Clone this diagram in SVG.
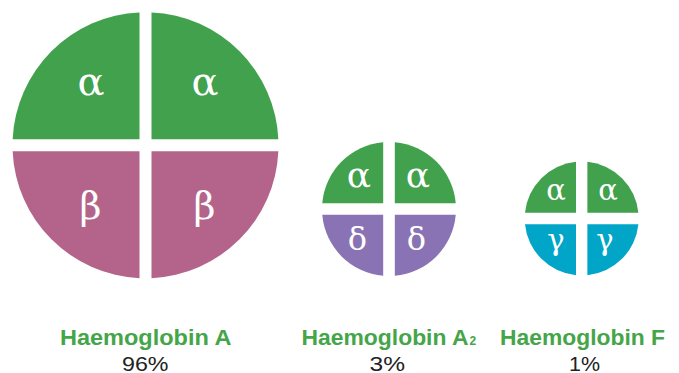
<svg xmlns="http://www.w3.org/2000/svg" width="679" height="373" viewBox="0 0 679 373">
<style>
.g{fill:#41a14d}
.p{fill:#b4648a}
.v{fill:#8973b4}
.c{fill:#00a5c8}
.gr{font-family:"DejaVu Serif",serif;fill:#fff;text-anchor:middle}
.t{font-family:"Liberation Sans",Arial,sans-serif;font-weight:bold;fill:#45a549;font-size:22px}
.n{font-family:"Liberation Sans",Arial,sans-serif;fill:#222;font-size:21px}
</style>
<rect width="679" height="373" fill="#fff"/>
<g id="hba">
<path class="g" d="M139.5,139.3V12.44A133,133 0 0 0 12.64,139.3Z"/>
<path class="g" d="M151.5,139.3V12.44A133,133 0 0 1 278.36,139.3Z"/>
<path class="p" d="M139.5,151.3H12.64A133,133 0 0 0 139.5,278.16Z"/>
<path class="p" d="M151.5,151.3V278.16A133,133 0 0 0 278.36,151.3Z"/>
<text class="gr" x="91" y="95" font-size="40">α</text>
<text class="gr" x="205" y="95" font-size="40">α</text>
<text class="gr" x="90.5" y="219" font-size="38">β</text>
<text class="gr" x="204.5" y="219" font-size="38">β</text>
<text class="t" x="60" y="345" textLength="171.5" lengthAdjust="spacingAndGlyphs">Haemoglobin A</text>
<text class="n" x="122" y="370.5" textLength="46.5" lengthAdjust="spacingAndGlyphs">96%</text>
</g>
<g id="hba2">
<path class="g" d="M383.2,203.2V142.25A67,67 0 0 0 322.25,203.2Z"/>
<path class="g" d="M394.8,203.2V142.25A67,67 0 0 1 455.75,203.2Z"/>
<path class="v" d="M383.2,214.8H322.25A67,67 0 0 0 383.2,275.75Z"/>
<path class="v" d="M394.8,214.8V275.75A67,67 0 0 0 455.75,214.8Z"/>
<text class="gr" x="359" y="186.5" font-size="36">α</text>
<text class="gr" x="418" y="186.5" font-size="36">α</text>
<text class="gr" x="357.5" y="250" font-size="32">δ</text>
<text class="gr" x="416.5" y="250" font-size="32">δ</text>
<text class="t" x="301.5" y="345"><tspan textLength="167" lengthAdjust="spacingAndGlyphs">Haemoglobin A</tspan><tspan font-size="12" dx="1">2</tspan></text>
<text class="n" x="369.5" y="370.5" textLength="35.5" lengthAdjust="spacingAndGlyphs">3%</text>
</g>
<g id="hbf">
<path class="g" d="M576,212.8V161.79A57,57 0 0 0 524.99,212.8Z"/>
<path class="g" d="M587.4,212.8V161.79A57,57 0 0 1 638.41,212.8Z"/>
<path class="c" d="M576,224.2H524.99A57,57 0 0 0 576,275.21Z"/>
<path class="c" d="M587.4,224.2V275.21A57,57 0 0 0 638.41,224.2Z"/>
<text class="gr" x="556" y="200" font-size="29">α</text>
<text class="gr" x="608" y="200" font-size="29">α</text>
<text class="gr" x="556" y="250" font-size="29">γ</text>
<text class="gr" x="605" y="250" font-size="29">γ</text>
<text class="t" x="500" y="345" textLength="165" lengthAdjust="spacingAndGlyphs">Haemoglobin F</text>
<text class="n" x="569" y="370.5" textLength="31" lengthAdjust="spacingAndGlyphs">1%</text>
</g>
</svg>
